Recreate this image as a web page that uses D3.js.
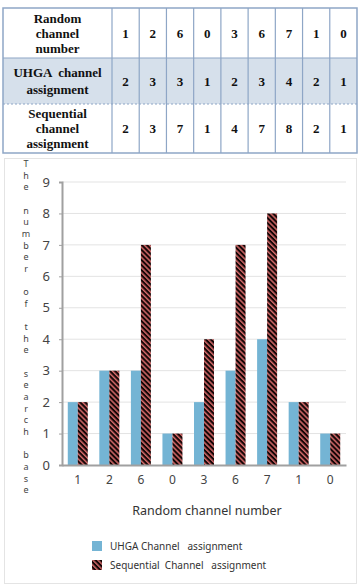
<!DOCTYPE html>
<html>
<head>
<meta charset="utf-8">
<script src="https://cdn.jsdelivr.net/npm/d3@7"></script>
<style>
  body { margin: 0; background: #fff; }
</style>
</head>
<body>
<div id="chart"></div>
<script>
// data
var categories = ["1", "2", "6", "0", "3", "6", "7", "1", "0"]
var uhga = [2, 3, 3, 1, 2, 3, 4, 2, 1]
var sequential = [2, 3, 7, 1, 4, 7, 8, 2, 1]
var rowHeaders = [["Random", "channel", "number"], ["UHGA  channel", "assignment"], ["Sequential", "channel", "assignment"]]
var seriesNames = ["UHGA Channel   assignment", "Sequential  Channel   assignment"]
var yTicks = [0, 1, 2, 3, 4, 5, 6, 7, 8, 9]
var yTitle = "The number of the search base"
var xTitle = "Random channel number"

var width = 361, height = 586

var svg = d3.select("#chart").append("svg")
  .attr("width", width)
  .attr("height", height)

// pattern for the sequential bars
var defs = svg.append("defs")
var pat = defs.append("pattern")
  .attr("id", "hatch")
  .attr("patternUnits", "userSpaceOnUse")
  .attr("width", 3.6).attr("height", 3.6)
  .attr("patternTransform", "rotate(45)")
pat.append("rect").attr("width", 3.6).attr("height", 3.6).attr("fill", "#d56a6a")
pat.append("rect").attr("width", 3.6).attr("height", 2.1).attr("fill", "#150606")

// ---------- table ----------
var tLeft = 3, tRight = 357, firstCol = 112
var rowEdges = [8, 58, 104, 153]
var colX = d3.scaleBand().domain(d3.range(categories.length)).range([firstCol, tRight])
var table = svg.append("g").attr("font-family", "Liberation Serif, serif").attr("font-weight", "bold").attr("font-size", 13)

table.append("rect")
  .attr("x", tLeft).attr("y", rowEdges[1])
  .attr("width", tRight - tLeft).attr("height", rowEdges[2] - rowEdges[1])
  .attr("fill", "#d6e0eb")

var tableRows = [categories, uhga, sequential]
tableRows.forEach(function(vals, r) {
  var y0 = rowEdges[r], y1 = rowEdges[r + 1]
  var lines = rowHeaders[r]
  var lh = r == 1 ? 17 : 15
  var mid = (y0 + y1) / 2
  lines.forEach(function(l, i) {
    table.append("text")
      .attr("x", (tLeft + firstCol) / 2)
      .attr("y", mid + (i - (lines.length - 1) / 2) * lh)
      .attr("dy", "0.35em")
      .attr("text-anchor", "middle")
      .attr("fill", "#111")
      .style("white-space", "pre")
      .text(l)
  })
  table.selectAll(null).data(vals).enter().append("text")
    .attr("x", function(d, i) { return colX(i) + colX.bandwidth() / 2 })
    .attr("y", mid)
    .attr("dy", "0.35em")
    .attr("text-anchor", "middle")
    .attr("fill", "#111")
    .text(function(d) { return d })
})

// grid lines of the table
var lineCol = "#8ea6c6"
table.append("rect")
  .attr("x", tLeft).attr("y", rowEdges[0])
  .attr("width", tRight - tLeft).attr("height", rowEdges[3] - rowEdges[0])
  .attr("fill", "none").attr("stroke", lineCol).attr("stroke-width", 1.5)
table.append("line").attr("x1", tLeft).attr("x2", tRight).attr("y1", rowEdges[1]).attr("y2", rowEdges[1])
  .attr("stroke", lineCol).attr("stroke-width", 1.2)
table.append("line").attr("x1", tLeft).attr("x2", tRight).attr("y1", rowEdges[2]).attr("y2", rowEdges[2])
  .attr("stroke", lineCol).attr("stroke-width", 1).attr("stroke-dasharray", "2,2")
table.selectAll(null).data(d3.range(categories.length)).enter().append("line")
  .attr("x1", function(i) { return colX(i) }).attr("x2", function(i) { return colX(i) })
  .attr("y1", rowEdges[0]).attr("y2", rowEdges[3])
  .attr("stroke", lineCol).attr("stroke-width", 1.2)

// ---------- chart ----------
svg.append("rect")
  .attr("x", 4.5).attr("y", 158.5).attr("width", 352).attr("height", 425)
  .attr("fill", "none").attr("stroke", "#e4e4e4")

var margin = {left: 62, right: 346, top: 182, bottom: 465}
var x = d3.scaleBand().domain(d3.range(categories.length)).range([margin.left, margin.right])
var y = d3.scaleLinear().domain([0, 9]).range([margin.bottom, margin.top])
var barW = 10

var chart = svg.append("g").attr("font-family", "Noto Sans, sans-serif")

chart.append("g").selectAll("line").data(yTicks.slice(1)).enter().append("line")
  .attr("x1", margin.left).attr("x2", margin.right)
  .attr("y1", function(d) { return y(d) }).attr("y2", function(d) { return y(d) })
  .attr("stroke", "#e3e3e3")

chart.append("g").selectAll("rect").data(uhga).enter().append("rect")
  .attr("x", function(d, i) { return x(i) + x.bandwidth() / 2 - barW })
  .attr("y", function(d) { return y(d) })
  .attr("width", barW)
  .attr("height", function(d) { return y(0) - y(d) })
  .attr("fill", "#74b4d4")

chart.append("g").selectAll("rect").data(sequential).enter().append("rect")
  .attr("x", function(d, i) { return x(i) + x.bandwidth() / 2 })
  .attr("y", function(d) { return y(d) })
  .attr("width", barW)
  .attr("height", function(d) { return y(0) - y(d) })
  .attr("fill", "url(#hatch)")

// axes
var yAxis = chart.append("g")
  .attr("transform", "translate(" + margin.left + ",0)")
  .call(d3.axisLeft(y).tickValues(yTicks).tickSize(3).tickPadding(9))
yAxis.select(".domain").attr("stroke", "#a0a0a0").attr("stroke-width", 2)
yAxis.selectAll(".tick line").attr("stroke", "#a0a0a0")
yAxis.selectAll("text").attr("font-size", 13).attr("fill", "#444").attr("font-family", "Noto Sans, sans-serif")

var xAxis = chart.append("g")
  .attr("transform", "translate(0," + margin.bottom + ")")
  .call(d3.axisBottom(x).tickFormat(function(i) { return categories[i] }).tickSize(0).tickPadding(10))
xAxis.select(".domain").attr("stroke", "#a0a0a0").attr("stroke-width", 2)
xAxis.selectAll("text").attr("font-size", 12).attr("fill", "#444").attr("font-family", "Noto Sans, sans-serif")

chart.append("text")
  .attr("x", 207).attr("y", 515)
  .attr("text-anchor", "middle")
  .attr("font-size", 12.5).attr("fill", "#333")
  .text(xTitle)

// stacked vertical y title, one letter per line
chart.append("g").selectAll("text").data(yTitle.split("")).enter().append("text")
  .attr("x", 26)
  .attr("y", function(d, i) { return 167 + i * 11.65 })
  .attr("text-anchor", "middle")
  .attr("font-size", 9).attr("fill", "#444")
  .text(function(d) { return d })

// legend
var legend = chart.append("g")
var fills = ["#74b4d4", "url(#hatch)"]
seriesNames.forEach(function(n, i) {
  legend.append("rect")
    .attr("x", 92).attr("y", 541 + i * 19)
    .attr("width", 10).attr("height", 10)
    .attr("fill", fills[i])
  legend.append("text")
    .attr("x", 110).attr("y", 546 + i * 19)
    .attr("dy", "0.35em")
    .attr("font-size", 10).attr("fill", "#333")
    .style("white-space", "pre")
    .text(n)
})
</script>
</body>
</html>
